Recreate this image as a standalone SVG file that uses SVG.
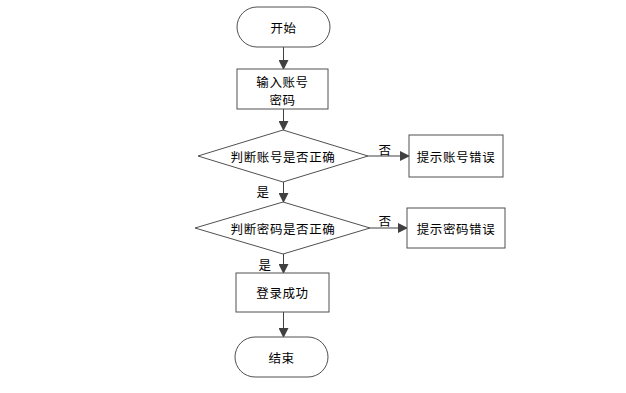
<svg xmlns="http://www.w3.org/2000/svg" width="626" height="393" viewBox="0 0 626 393">
<style>
.s{fill:#fff;stroke:#505050;stroke-width:1}
.t{font-family:"Noto Sans CJK SC","Liberation Sans",sans-serif;font-size:12.5px;letter-spacing:0.6px;fill:#000;text-anchor:middle;dominant-baseline:central}
.c{stroke:#404040;stroke-width:1;fill:none}
</style>
<defs>
<marker id="a" markerWidth="10" markerHeight="10" refX="9" refY="5" orient="auto" markerUnits="userSpaceOnUse">
<path d="M0,0 L10,5 L0,10 Z" fill="#404040"/>
</marker>
</defs>
<rect width="626" height="393" fill="#fff"/>
<g id="connectors">
<line class="c" x1="283.5" y1="47" x2="283.5" y2="69" marker-end="url(#a)"/>
<line class="c" x1="283.5" y1="109" x2="283.5" y2="130" marker-end="url(#a)"/>
<line class="c" x1="368" y1="156" x2="409" y2="156" marker-end="url(#a)"/>
<line class="c" x1="283.5" y1="182" x2="283.5" y2="202" marker-end="url(#a)"/>
<line class="c" x1="370" y1="228" x2="407" y2="228" marker-end="url(#a)"/>
<line class="c" x1="283.5" y1="254" x2="283.5" y2="273" marker-end="url(#a)"/>
<line class="c" x1="283.5" y1="312" x2="283.5" y2="337" marker-end="url(#a)"/>
<text class="t" x="385" y="149">否</text>
<text class="t" x="263" y="191">是</text>
<text class="t" x="385" y="220">否</text>
<text class="t" x="265" y="264">是</text>
</g>
<g id="start"><rect class="s" x="237" y="7" width="93" height="40" rx="20"/><text class="t" x="283.5" y="27">开始</text></g>
<g id="input"><rect class="s" x="237" y="69" width="91" height="40"/><text class="t" x="282.5" y="81">输入账号</text><text class="t" x="282.5" y="99">密码</text></g>
<g id="check1"><polygon class="s" points="283,130 368,156 283,182 198,156"/><text class="t" x="283" y="156">判断账号是否正确</text></g>
<g id="err1"><rect class="s" x="409" y="135" width="94" height="42"/><text class="t" x="456" y="156">提示账号错误</text></g>
<g id="check2"><polygon class="s" points="283,202 370,228 283,254 195,228"/><text class="t" x="283" y="228">判断密码是否正确</text></g>
<g id="err2"><rect class="s" x="407" y="208" width="98" height="40"/><text class="t" x="456" y="228">提示密码错误</text></g>
<g id="login"><rect class="s" x="236" y="273" width="93" height="39"/><text class="t" x="282.5" y="292.5">登录成功</text></g>
<g id="end"><rect class="s" x="235" y="337" width="93" height="40" rx="20"/><text class="t" x="281.5" y="357">结束</text></g>
</svg>
